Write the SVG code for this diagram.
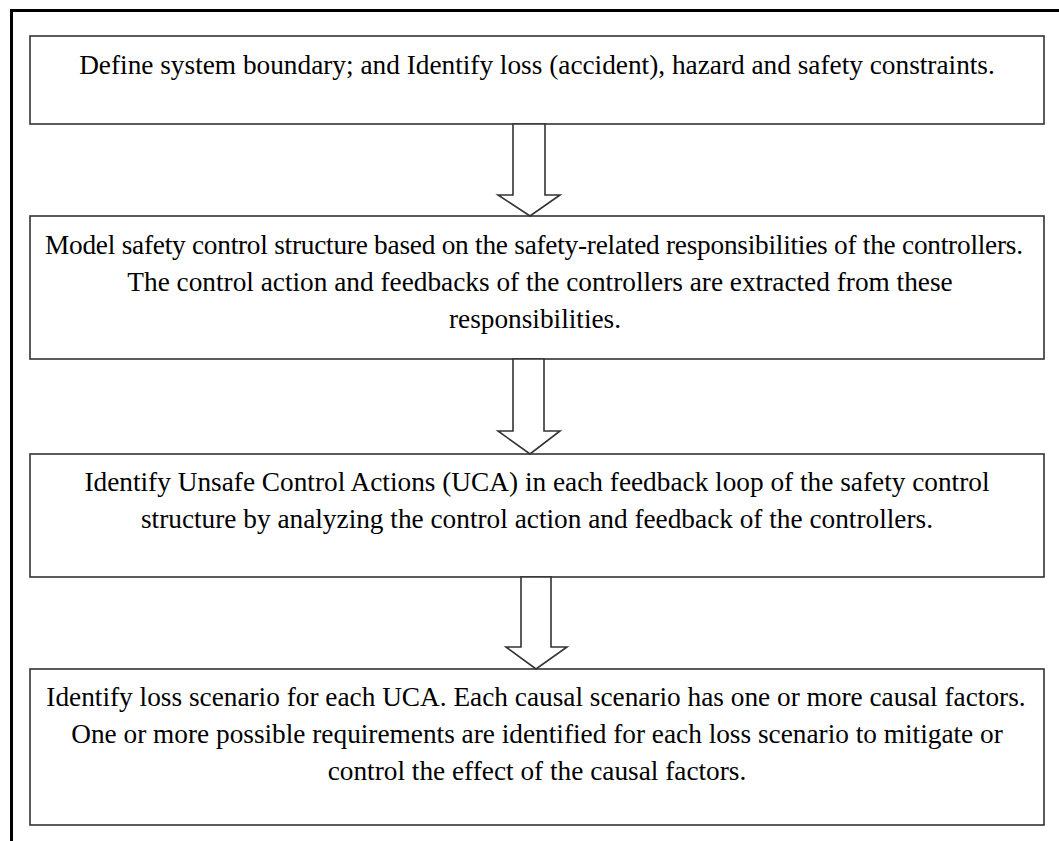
<svg xmlns="http://www.w3.org/2000/svg" width="1059" height="841" viewBox="0 0 1059 841">
  <style>
    .frame { stroke: #000; stroke-width: 3; fill: none; }
    .box { fill: #fff; stroke: #333; stroke-width: 1.6; }
    .arrow { fill: #fff; stroke: #333; stroke-width: 1.6; stroke-linejoin: miter; }
    .label { font-family: "Liberation Serif", "Times New Roman", serif; font-size: 27.3px; fill: #000; text-anchor: middle; }
  </style>
  <rect width="1059" height="841" fill="#fff"/>

  <!-- outer frame: top and left edges -->
  <g id="frame">
    <line class="frame" x1="10" y1="10.5" x2="1059" y2="10.5"/>
    <line class="frame" x1="11.5" y1="9" x2="11.5" y2="841"/>
  </g>

  <!-- step boxes -->
  <g id="step1">
    <rect class="box" x="30" y="36" width="1014" height="88"/>
    <text class="label" x="537" y="74">Define system boundary; and Identify loss (accident), hazard and safety constraints.</text>
  </g>

  <g id="step2">
    <rect class="box" x="30" y="216" width="1014" height="143"/>
    <text class="label" x="534" y="254" textLength="978" lengthAdjust="spacing">Model safety control structure based on the safety-related responsibilities of the controllers.</text>
    <text class="label" x="540" y="291">The control action and feedbacks of the controllers are extracted from these</text>
    <text class="label" x="535" y="328">responsibilities.</text>
  </g>

  <g id="step3">
    <rect class="box" x="30" y="454" width="1014" height="123"/>
    <text class="label" x="537" y="491">Identify Unsafe Control Actions (UCA) in each feedback loop of the safety control</text>
    <text class="label" x="537" y="528">structure by analyzing the control action and feedback of the controllers.</text>
  </g>

  <g id="step4">
    <rect class="box" x="30" y="669" width="1014" height="156"/>
    <text class="label" x="536" y="706">Identify loss scenario for each UCA. Each causal scenario has one or more causal factors.</text>
    <text class="label" x="537" y="743">One or more possible requirements are identified for each loss scenario to mitigate or</text>
    <text class="label" x="537" y="780">control the effect of the causal factors.</text>
  </g>

  <!-- hollow block arrows between steps -->
  <g id="connectors">
    <polygon class="arrow" points="513,124 545,124 545,195 560,195 530,216 498,195 513,195"/>
    <polygon class="arrow" points="513,359 544,359 544,431 560,431 530,454 498,431 513,431"/>
    <polygon class="arrow" points="521,577 551,577 551,647 567,647 536,669 506,647 521,647"/>
  </g>
</svg>
